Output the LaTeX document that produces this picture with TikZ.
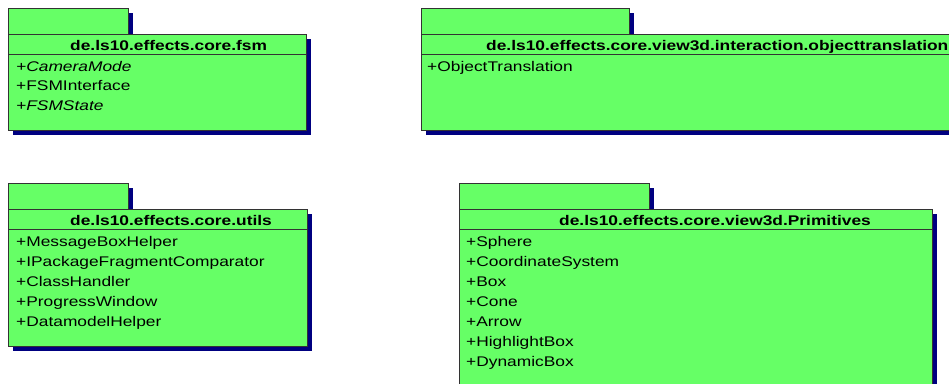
\documentclass[tikz,border=0pt]{standalone}
\usepackage{fontspec}
\setmainfont{Liberation Sans}[FakeStretch=1.24]
\usepackage{tikz}
\usetikzlibrary{positioning,shadows}
\definecolor{pkggreen}{HTML}{66FF66}
\definecolor{pkgshadow}{HTML}{000080}

\begin{document}
\begin{tikzpicture}[x=1pt, y=-1pt,
  pkg/.style={rectangle, draw=black!80, line width=1pt, fill=pkggreen,
    anchor=north west, inner sep=0pt,
    drop shadow={shadow xshift=4pt, shadow yshift=-4pt, fill=pkgshadow, opacity=1}},
  pkgline/.style={draw=black!80, line width=1pt},
  pkgtitle/.style={anchor=base west, inner sep=0pt, font=\fontsize{14}{20}\selectfont\bfseries},
  pkgitem/.style={anchor=base west, inner sep=0pt, font=\fontsize{14}{20}\selectfont}]
  \useasboundingbox (0,0) rectangle (949,383);
  \clip (0,0) rectangle (949,383);

  % fsm
  \node[pkg, minimum width=120pt, minimum height=26pt] (fsmtab) at (8,8) {};
  \node[pkg, minimum width=298pt, minimum height=96pt] (fsmbody) at (8,34) {};
  \draw[pkgline] ([yshift=-20pt]fsmbody.north west) -- ([yshift=-20pt]fsmbody.north east);
  \node[pkgtitle] (fsmname) at (70,50) {de.ls10.effects.core.fsm};
  \node[pkgitem] (fsm1) at (16,71) {\itshape +CameraMode};
  \node[pkgitem] (fsm2) at (16,90.5) {+FSMInterface};
  \node[pkgitem] (fsm3) at (16,110) {\itshape +FSMState};

  % objecttranslation
  \node[pkg, minimum width=208pt, minimum height=26pt] (transtab) at (421,8) {};
  \node[pkg, minimum width=600pt, minimum height=96pt] (transbody) at (421,34) {};
  \draw[pkgline] ([yshift=-20pt]transbody.north west) -- ([yshift=-20pt]transbody.north east);
  \node[pkgtitle] (transname) at (486,50) {de.ls10.effects.core.view3d.interaction.objecttranslation};
  \node[pkgitem] (trans1) at (427,71) {+ObjectTranslation};

  % utils
  \node[pkg, minimum width=120pt, minimum height=26pt] (utiltab) at (8,183) {};
  \node[pkg, minimum width=299pt, minimum height=137pt] (utilbody) at (8,209) {};
  \draw[pkgline] ([yshift=-20pt]utilbody.north west) -- ([yshift=-20pt]utilbody.north east);
  \node[pkgtitle] (utilname) at (70,225) {de.ls10.effects.core.utils};
  \node[pkgitem] (util1) at (16,246) {+MessageBoxHelper};
  \node[pkgitem] (util2) at (16,266) {+IPackageFragmentComparator};
  \node[pkgitem] (util3) at (16,286) {+ClassHandler};
  \node[pkgitem] (util4) at (16,306) {+ProgressWindow};
  \node[pkgitem] (util5) at (16,326) {+DatamodelHelper};

  % Primitives
  \node[pkg, minimum width=190pt, minimum height=26pt] (primtab) at (459,183) {};
  \node[pkg, minimum width=473pt, minimum height=200pt] (primbody) at (459,209) {};
  \draw[pkgline] ([yshift=-20pt]primbody.north west) -- ([yshift=-20pt]primbody.north east);
  \node[pkgtitle] (primname) at (559,225) {de.ls10.effects.core.view3d.Primitives};
  \node[pkgitem] (prim1) at (466,246) {+Sphere};
  \node[pkgitem] (prim2) at (466,266) {+CoordinateSystem};
  \node[pkgitem] (prim3) at (466,286) {+Box};
  \node[pkgitem] (prim4) at (466,306) {+Cone};
  \node[pkgitem] (prim5) at (466,326) {+Arrow};
  \node[pkgitem] (prim6) at (466,346) {+HighlightBox};
  \node[pkgitem] (prim7) at (466,366) {+DynamicBox};
\end{tikzpicture}
\end{document}
